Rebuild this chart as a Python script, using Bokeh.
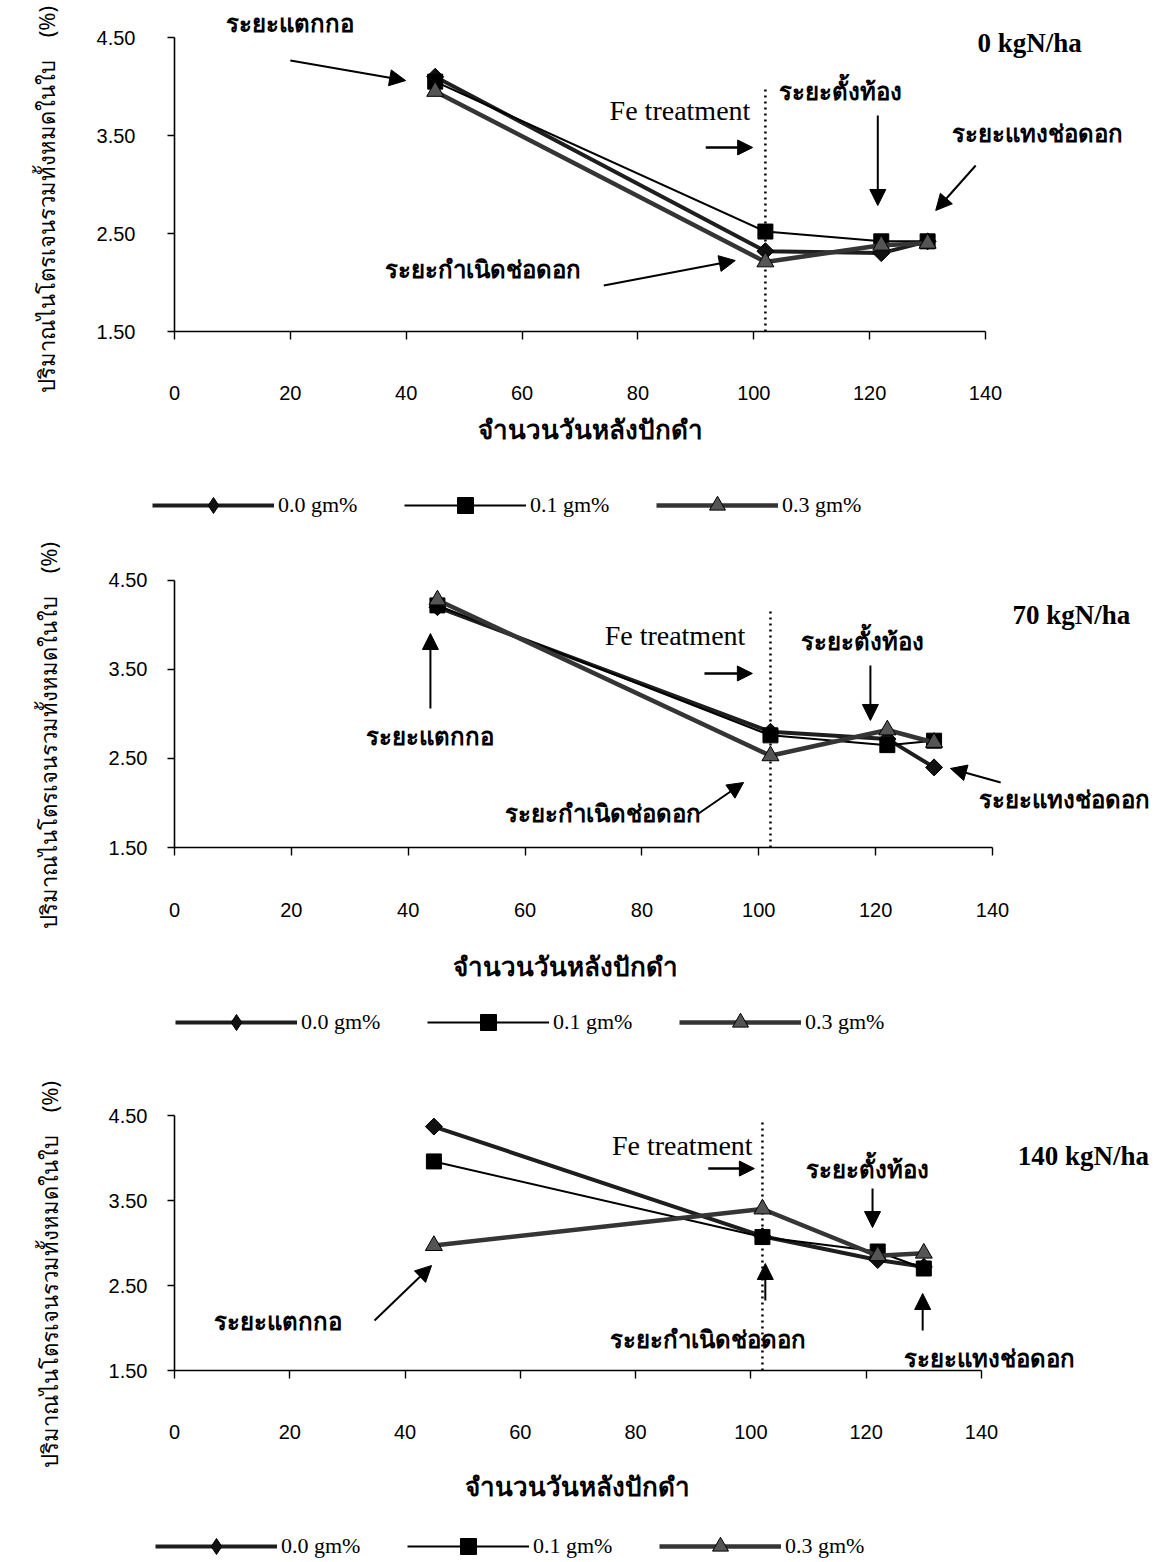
import math
from bokeh.plotting import figure
from bokeh.layouts import column, row
from bokeh.models import (Range1d, FixedTicker, NumeralTickFormatter, Label,
                          Arrow, NormalHead, Legend, LegendItem)
from bokeh.embed import file_html
from bokeh.resources import INLINE

# ---------------- data ----------------
days = [45, 102, 122, 130]
fe_labels = ["0.0 gm%", "0.1 gm%", "0.3 gm%"]
x_ticks = [0, 20, 40, 60, 80, 100, 120, 140]
y_ticks = [1.5, 2.5, 3.5, 4.5]
fe_day = 102
panel_titles = ["0 kgN/ha", "70 kgN/ha", "140 kgN/ha"]

n0_fe00 = [4.10, 2.32, 2.30, 2.42]
n0_fe01 = [4.05, 2.52, 2.42, 2.42]
n0_fe03 = [3.95, 2.21, 2.38, 2.40]

n70_fe00 = [4.20, 2.80, 2.72, 2.40]
n70_fe01 = [4.22, 2.76, 2.65, 2.70]
n70_fe03 = [4.28, 2.53, 2.82, 2.68]

n140_fe00 = [4.37, 3.08, 2.80, 2.72]
n140_fe01 = [3.96, 3.07, 2.90, 2.70]
n140_fe03 = [2.97, 3.40, 2.85, 2.88]

y_title = "ปริมาณไนโตรเจนรวมทั้งหมดในใบ\u00a0\u00a0\u00a0\u00a0(%)"
x_title = "จำนวนวันหลังปักดำ"
stage_tiller = "ระยะแตกกอ"
stage_pi = "ระยะกำเนิดช่อดอก"
stage_boot = "ระยะตั้งท้อง"
stage_head = "ระยะแทงช่อดอก"
fe_text = "Fe treatment"

THAI = "Noto Sans"
SERIF = "Liberation Serif"
SANS = "Liberation Sans"

STYLES = [
    dict(line_color="#1e1e1e", line_width=4, marker="square", angle=math.pi / 4,
         size=12, fill_color="#111111", leg_marker="diamond"),
    dict(line_color="#000000", line_width=2, marker="square", angle=0,
         size=15, fill_color="#000000", leg_marker="square"),
    dict(line_color="#353535", line_width=4.5, marker="triangle", angle=0,
         size=17, fill_color="#555555", leg_marker="triangle"),
]


def blank_fig(w, h, x0=0):
    q = figure(width=w, height=h, output_backend="svg", toolbar_location=None,
               x_range=Range1d(x0, x0 + w), y_range=Range1d(0, h),
               x_axis_type=None, y_axis_type=None, min_border=0, frame_align=False)
    q.outline_line_color = None
    q.background_fill_color = "white"
    q.border_fill_color = "white"
    return q


def add_text(p, text, x, y, font=THAI, size="24px", bold=True, align="center", angle=0):
    p.add_layout(Label(x=x, y=y, text=text, text_font=font, text_font_size=size,
                       text_font_style="bold" if bold else "normal", angle=angle,
                       text_align=align, text_baseline="middle",
                       text_color="black"))


def add_arrow(p, x0, y0, x1, y1, head=16, width=2):
    p.add_layout(Arrow(end=NormalHead(size=head, fill_color="black", line_color="black"),
                       x_start=x0, y_start=y0, x_end=x1, y_end=y1,
                       line_width=width, line_color="black"))


def make_chart(series, cfg):
    p = figure(width=1080, height=cfg["h"], output_backend="svg", toolbar_location=None,
               x_range=Range1d(0, cfg["xmax"]), y_range=Range1d(1.5, cfg["ymax"]),
               min_border_top=0, min_border_bottom=cfg["h"] - cfg["fh"],
               min_border_left=94, min_border_right=0, frame_align=False)
    p.outline_line_color = None
    p.grid.visible = False
    p.background_fill_color = "white"
    p.border_fill_color = "white"

    xa = p.xaxis[0]
    xa.bounds = (0, 140)
    xa.ticker = FixedTicker(ticks=x_ticks)
    xa.minor_tick_line_color = None
    xa.major_tick_out = 8
    xa.major_tick_in = 0
    xa.axis_line_width = 1.6
    xa.major_tick_line_width = 1.4
    xa.major_label_standoff = cfg["xs"]
    xa.major_label_text_font = SANS
    xa.major_label_text_font_size = "20px"
    xa.major_label_text_color = "black"

    ya = p.yaxis[0]
    ya.bounds = (1.5, 4.5)
    ya.ticker = FixedTicker(ticks=y_ticks)
    ya.formatter = NumeralTickFormatter(format="0.00")
    ya.minor_tick_line_color = None
    ya.major_tick_out = 7
    ya.major_tick_in = 0
    ya.axis_line_width = 1.6
    ya.major_tick_line_width = 1.4
    ya.major_label_standoff = cfg["ys"]
    ya.major_label_text_font = SANS
    ya.major_label_text_font_size = "20px"
    ya.major_label_text_color = "black"

    # Fe treatment dotted line
    p.segment(x0=[fe_day], y0=[1.5], x1=[fe_day], y1=[cfg["fe_top"]],
              line_color="black", line_width=2.5, line_dash="2 4")

    for vals, st in zip(series, STYLES):
        p.line(days, vals, line_color=st["line_color"], line_width=st["line_width"])
        p.scatter(days, vals, marker=st["marker"], size=st["size"], angle=st["angle"],
                  fill_color=st["fill_color"], line_color="black", line_width=1)
    return p


def make_lower(cfg):
    q = blank_fig(1080, cfg["lh"], x0=80)
    add_text(q, x_title, cfg["xt"][0], cfg["xt"][1], size="26px")
    items = []
    for lab, st in zip(fe_labels, STYLES):
        # legend proxies: one point placed outside the visible frame
        lr = q.line(x=[0], y=[-1000], line_color=st["line_color"], line_width=st["line_width"])
        sr = q.scatter(x=[0], y=[-1000], marker=st["leg_marker"], size=st["size"],
                       fill_color=st["fill_color"], line_color="black", line_width=1)
        items.append(LegendItem(label=lab, renderers=[lr, sr]))
    q.add_layout(Legend(items=items, location=cfg["leg"], orientation="horizontal",
                        glyph_width=122, glyph_height=40, label_width=86, label_standoff=4,
                        spacing=40, padding=0, margin=0, border_line_alpha=0,
                        background_fill_alpha=0, label_text_font=SERIF,
                        label_text_font_size="22px", label_text_color="black"))
    return q


def make_block(p, cfg):
    strip = blank_fig(80, cfg["h"] + cfg["lh"])
    add_text(strip, y_title, cfg["yt"][0], cfg["yt"][1], size="22px", bold=False,
             angle=math.pi / 2)
    return row(strip, column(p, make_lower(cfg), spacing=0), spacing=0)


# ---------- chart 1 : 0 kgN/ha ----------
c1 = dict(h=412, fh=331, lh=128, xmax=170.2, ymax=4.878, xs=46, ys=32, fe_top=3.98,
          xt=(590, 112), leg=(72, 15), yt=(45, 341))
p1 = make_chart([n0_fe00, n0_fe01, n0_fe03], c1)
add_text(p1, stage_tiller, 20.0, 4.653)
add_arrow(p1, 20.0, 4.265, 39.9, 4.061)
add_text(p1, panel_titles[0], 138.6, 4.449, font=SERIF, size="27px", align="left")
add_text(p1, fe_text, 99.4, 3.755, font=SERIF, size="28px", bold=False, align="right")
add_arrow(p1, 91.7, 3.378, 99.8, 3.378, head=15, width=2.5)
add_text(p1, stage_boot, 115.0, 3.959)
add_arrow(p1, 121.4, 3.704, 121.4, 2.786)
add_text(p1, stage_head, 149.0, 3.531)
add_arrow(p1, 138.3, 3.194, 131.4, 2.735)
add_text(p1, stage_pi, 53.2, 2.143)
add_arrow(p1, 74.1, 1.969, 96.8, 2.224)

# ---------- chart 2 : 70 kgN/ha ----------
c2 = dict(h=390, fh=307, lh=132, xmax=168.75, ymax=4.949, xs=47, ys=20, fe_top=4.163,
          xt=(565, 97), leg=(95, 20), yt=(47, 327))
p2 = make_chart([n70_fe00, n70_fe01, n70_fe03], c2)
add_text(p2, stage_tiller, 43.8, 2.758)
add_arrow(p2, 43.8, 3.062, 43.8, 3.904)
add_text(p2, panel_titles[1], 143.4, 4.107, font=SERIF, size="27px", align="left")
add_text(p2, fe_text, 97.7, 3.882, font=SERIF, size="28px", bold=False, align="right")
add_arrow(p2, 90.7, 3.455, 98.9, 3.455, head=15, width=2.5)
add_text(p2, stage_boot, 117.7, 3.826)
add_arrow(p2, 119.1, 3.545, 119.1, 2.927)
add_text(p2, stage_head, 152.3, 2.051)
add_arrow(p2, 141.4, 2.230, 132.8, 2.388)
add_text(p2, stage_pi, 73.3, 1.893)
add_arrow(p2, 89.7, 1.882, 97.4, 2.230)

# ---------- chart 3 : 140 kgN/ha ----------
c3 = dict(h=388, fh=308, lh=110, xmax=171.06, ymax=5.124, xs=46, ys=20, fe_top=4.418,
          xt=(577, 75), leg=(75, -6), yt=(48, 286))
p3 = make_chart([n140_fe00, n140_fe01, n140_fe03], c3)
add_text(p3, stage_tiller, 18.0, 2.088)
add_arrow(p3, 34.7, 2.088, 44.6, 2.735)
add_text(p3, panel_titles[2], 146.3, 4.029, font=SERIF, size="27px", align="left")
add_text(p3, fe_text, 100.3, 4.147, font=SERIF, size="28px", bold=False, align="right")
add_arrow(p3, 92.6, 3.876, 100.6, 3.876, head=15, width=2.5)
add_text(p3, stage_boot, 120.2, 3.876)
add_arrow(p3, 121.1, 3.641, 121.1, 3.182)
add_text(p3, stage_pi, 92.5, 1.876)
add_arrow(p3, 102.5, 2.324, 102.5, 2.759)
add_text(p3, stage_head, 141.4, 1.653)
add_arrow(p3, 129.8, 1.971, 129.8, 2.406)

layout = column(make_block(p1, c1), make_block(p2, c2), make_block(p3, c3), spacing=0)
open("out.html", "w").write(file_html(layout, INLINE))
